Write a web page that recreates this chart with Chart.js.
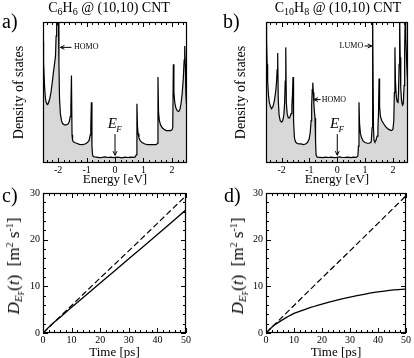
<!DOCTYPE html>
<html><head><meta charset="utf-8">
<script src="https://cdn.jsdelivr.net/npm/chart.js@4"></script>
<style>
html,body{margin:0;padding:0;background:#fff;width:414px;height:358px;overflow:hidden;position:relative;font-family:'Liberation Serif','Times New Roman',serif;color:#000;}
canvas{position:absolute;}
.t{position:absolute;white-space:nowrap;color:#000;}
.t sub{font-size:10px;vertical-align:-3px;line-height:0;}
.t sup{font-size:10px;vertical-align:6px;line-height:0;}
.lab{font-size:20px;line-height:20px;}
.rot{font-size:17px;line-height:18px;transform:translate(-50%,-50%) rotate(-90deg);}
.rot sub{font-size:11px;}
.rot sub sub{font-size:8px;vertical-align:-2px;}
</style></head><body>
<canvas id="ca" width="200" height="190" style="left:0;top:0"></canvas>
<canvas id="cb" width="204" height="190" style="left:210px;top:0"></canvas>
<canvas id="cc" width="200" height="180" style="left:0;top:182px"></canvas>
<canvas id="cd" width="204" height="180" style="left:210px;top:182px"></canvas>

<div class="t" style="left:0;width:218px;top:0;text-align:center;font-size:14px;line-height:16px">C<sub>6</sub>H<sub>6</sub> @ (10,10) CNT</div>
<div class="t" style="left:238px;width:200px;top:0;text-align:center;font-size:14px;line-height:16px">C<sub>10</sub>H<sub>8</sub> @ (10,10) CNT</div>
<div class="t lab" style="left:2px;top:11px">a)</div>
<div class="t lab" style="left:223px;top:11px">b)</div>
<div class="t lab" style="left:2px;top:185px">c)</div>
<div class="t lab" style="left:224px;top:185px">d)</div>
<div class="t rot" style="left:14px;top:266px"><i>D</i><sub><i>E</i><sub>F</sub></sub>(<i>t</i>)&ensp;[m<sup>2</sup> s<sup>-1</sup>]</div>
<div class="t rot" style="left:238px;top:266px"><i>D</i><sub><i>E</i><sub>F</sub></sub>(<i>t</i>)&ensp;[m<sup>2</sup> s<sup>-1</sup>]</div>

<script>
// ---------- data ----------
const energyTicks = [-2, -1, 0, 1, 2];
const timeTicks = [0, 10, 20, 30, 40, 50];
const diffTicks = [0, 10, 20, 30];

// Panel a: C6H6 @ (10,10) CNT density of states
const energyA = [-2.53,-2.51,-2.48,-2.45,-2.42,-2.38,-2.35,-2.30,-2.25,-2.20,-2.16,-2.12,-2.09,-2.07,-2.05,-2.03,-2.01,-1.99,-1.97,-1.95,-1.92,-1.88,-1.84,-1.78,-1.72,-1.66,-1.61,-1.57,-1.55,-1.53,-1.51,-1.49,-1.46,-1.42,-1.35,-1.25,-1.15,-1.05,-0.97,-0.91,-0.87,-0.85,-0.83,-0.81,-0.79,-0.77,-0.74,-0.65,-0.55,-0.45,-0.35,-0.25,-0.15,-0.05,0.05,0.15,0.25,0.35,0.45,0.55,0.65,0.72,0.75,0.77,0.79,0.81,0.84,0.88,0.95,1.05,1.15,1.25,1.35,1.42,1.46,1.49,1.51,1.53,1.56,1.60,1.66,1.72,1.80,1.88,1.95,2.00,2.03,2.05,2.07,2.10,2.14,2.19,2.24,2.28,2.32,2.36,2.40,2.43,2.45,2.47,2.49,2.51,2.53];
const dosA = [8.6,7.2,5.6,4.7,4.3,4.15,4.2,4.5,5.0,5.8,6.5,7.1,7.6,9.0,10.5,9.8,10.5,10.5,7.0,4.6,3.5,3.0,2.8,2.7,2.7,2.75,2.9,3.3,4.0,6.2,2.0,1.6,1.5,1.45,1.4,1.32,1.3,1.35,1.45,1.6,2.0,2.6,4.3,1.2,0.6,0.47,0.44,0.42,0.38,0.40,0.43,0.39,0.41,0.38,0.42,0.40,0.37,0.41,0.39,0.42,0.40,0.45,0.6,4.2,2.6,2.1,1.8,1.6,1.45,1.35,1.3,1.3,1.3,1.3,1.32,1.4,6.1,3.6,3.0,2.7,2.5,2.4,2.3,2.3,2.3,2.35,2.5,7.0,5.0,4.3,3.9,3.7,3.65,3.8,4.2,4.9,6.0,7.3,8.3,7.0,5.0,4.2,3.9];

// Panel b: C10H8 @ (10,10) CNT density of states
const energyB = [-2.56,-2.54,-2.52,-2.50,-2.47,-2.44,-2.40,-2.36,-2.31,-2.26,-2.21,-2.18,-2.16,-2.14,-2.12,-2.09,-2.05,-2.00,-1.96,-1.92,-1.89,-1.87,-1.85,-1.83,-1.80,-1.76,-1.71,-1.66,-1.63,-1.61,-1.59,-1.57,-1.54,-1.50,-1.45,-1.38,-1.30,-1.22,-1.14,-1.07,-1.01,-0.97,-0.94,-0.92,-0.90,-0.88,-0.86,-0.84,-0.82,-0.80,-0.78,-0.76,-0.72,-0.62,-0.52,-0.42,-0.32,-0.22,-0.12,-0.02,0.08,0.18,0.28,0.38,0.48,0.58,0.68,0.74,0.76,0.78,0.80,0.83,0.87,0.93,1.00,1.08,1.16,1.22,1.25,1.26,1.28,1.30,1.32,1.35,1.39,1.43,1.46,1.48,1.50,1.52,1.55,1.60,1.66,1.73,1.80,1.88,1.95,2.00,2.03,2.05,2.07,2.09,2.12,2.15,2.18,2.20,2.22,2.24,2.26,2.28,2.31,2.34,2.37,2.40,2.42,2.44,2.46,2.49,2.52,2.55];
const dosB = [10.5,8.8,7.0,5.8,4.8,4.3,4.0,3.85,4.0,4.4,5.1,5.8,6.6,7.8,4.5,3.4,3.0,2.9,3.0,3.4,4.3,5.8,8.2,4.3,3.5,3.2,3.2,3.5,4.1,4.8,6.1,3.0,1.8,1.5,1.4,1.35,1.35,1.3,1.35,1.45,1.7,2.2,3.0,4.1,5.2,5.7,5.0,4.2,3.6,3.2,1.5,0.55,0.42,0.40,0.38,0.41,0.39,0.42,0.38,0.40,0.43,0.39,0.40,0.42,0.38,0.41,0.40,0.5,1.2,4.3,2.8,2.1,1.8,1.55,1.45,1.4,1.4,1.5,2.5,10.5,10.5,2.5,1.6,1.5,1.6,1.9,2.5,3.5,6.0,4.0,3.3,3.0,2.8,2.6,2.45,2.35,2.3,2.4,3.0,5.0,8.2,5.8,4.7,4.35,4.3,5.0,7.0,10.5,7.5,5.3,4.4,4.1,4.2,5.5,8.0,10.5,9.0,7.2,6.0,5.3];

// Panel c: diffusion coefficient, C6H6
const timeC = [0, 3, 6, 10, 20, 30, 40, 50];
const diffC = [0, 1.8, 3.4, 5.5, 10.7, 15.9, 21.1, 26.4];
// Panel d: diffusion coefficient, C10H8
const timeD = [0, 1, 2, 3, 5, 7.5, 10, 15, 20, 25, 30, 35, 40, 45, 50];
const diffD = [0, 0.6, 1.2, 1.7, 2.5, 3.4, 4.2, 5.3, 6.2, 7.0, 7.7, 8.3, 8.8, 9.2, 9.4];
// Ballistic reference (dashed), both panels
const timeBal = [0, 10, 20, 30, 40, 50];
const diffBal = [0, 5.9, 11.8, 17.6, 23.5, 29.4];

// ---------- helpers ----------
const zip = (xs, ys) => xs.map((x, i) => ({x, y: ys[i]}));
Chart.defaults.font.family = "'Liberation Serif','Times New Roman',serif";
Chart.defaults.color = '#000';

const frameTicks = {
  id: 'frameTicks',
  afterDraw(chart, args, o) {
    const {ctx, chartArea: a, scales: {x, y}} = chart;
    ctx.save();
    ctx.strokeStyle = '#000';
    ctx.lineWidth = 1;
    ctx.beginPath();
    const mark = (sc, step, len, horiz) => {
      if (!step) return;
      for (let i = Math.ceil(sc.min / step - 1e-9); i * step <= sc.max + 1e-9; i++) {
        const p = Math.round(sc.getPixelForValue(i * step)) + 0.5;
        if (horiz) {
          ctx.moveTo(p, a.bottom); ctx.lineTo(p, a.bottom - len);
          ctx.moveTo(p, a.top); ctx.lineTo(p, a.top + len);
        } else {
          ctx.moveTo(a.left, p); ctx.lineTo(a.left + len, p);
          ctx.moveTo(a.right, p); ctx.lineTo(a.right - len, p);
        }
      }
    };
    mark(x, o.xMinor, 3, true); mark(x, o.xMajor, 5, true);
    mark(y, o.yMinor, 3, false); mark(y, o.yMajor, 5, false);
    ctx.stroke();
    ctx.lineWidth = 1.2;
    ctx.strokeRect(Math.round(a.left) + 0.5, Math.round(a.top) + 0.5, Math.round(a.right - a.left) - 1, Math.round(a.bottom - a.top) - 1);
    ctx.restore();
  }
};

const annot = {
  id: 'annot',
  afterDraw(chart, args, o) {
    const {ctx, scales: {x, y}} = chart;
    ctx.save();
    ctx.strokeStyle = '#000'; ctx.fillStyle = '#000'; ctx.lineWidth = 1;
    (o.arrows || []).forEach(([x1, y1, x2, y2]) => {
      const X1 = x.getPixelForValue(x1), Y1 = y.getPixelForValue(y1);
      const X2 = x.getPixelForValue(x2), Y2 = y.getPixelForValue(y2);
      const ang = Math.atan2(Y2 - Y1, X2 - X1), h = 4.5;
      ctx.beginPath();
      ctx.moveTo(X1, Y1); ctx.lineTo(X2, Y2);
      ctx.moveTo(X2 - h * Math.cos(ang - 0.45), Y2 - h * Math.sin(ang - 0.45));
      ctx.lineTo(X2, Y2);
      ctx.lineTo(X2 - h * Math.cos(ang + 0.45), Y2 - h * Math.sin(ang + 0.45));
      ctx.stroke();
    });
    (o.labels || []).forEach(l => {
      ctx.font = l.font;
      ctx.textAlign = l.align; ctx.textBaseline = 'middle';
      ctx.fillText(l.text, x.getPixelForValue(l.x), y.getPixelForValue(l.y));
    });
    if (o.ef) {
      const px = x.getPixelForValue(o.ef.x), py = y.getPixelForValue(o.ef.y);
      ctx.textBaseline = 'middle'; ctx.textAlign = 'left';
      ctx.font = "italic 15px 'Liberation Serif', serif";
      const wE = ctx.measureText('E').width;
      ctx.font = "italic 9px 'Liberation Serif', serif";
      const wF = ctx.measureText('F').width;
      const x0 = px - (wE + wF) / 2;
      ctx.font = "italic 15px 'Liberation Serif', serif";
      ctx.fillText('E', x0, py);
      ctx.font = "italic 9px 'Liberation Serif', serif";
      ctx.fillText('F', x0 + wE - 0.5, py + 5);
    }
    ctx.restore();
  }
};
Chart.register(frameTicks, annot);

const fixedTicks = arr => s => { s.ticks = arr.map(v => ({value: v})); };

function dosChart(id, E, V, xmin, xmax, pad, yW, yTitlePad, ann) {
  return new Chart(document.getElementById(id), {
    type: 'line',
    data: {datasets: [{data: zip(E, V), borderColor: '#000', borderWidth: 1.2, pointRadius: 0,
      fill: 'origin', backgroundColor: '#d8d8d8', tension: 0}]},
    options: {
      responsive: false, animation: false, events: [],
      layout: {padding: pad},
      plugins: {legend: {display: false}, tooltip: {enabled: false},
        frameTicks: {xMajor: 1, xMinor: 0.2}, annot: ann},
      scales: {
        x: {type: 'linear', min: xmin, max: xmax, afterBuildTicks: fixedTicks(energyTicks),
          afterFit: s => { s.height = 27; },
          grid: {display: false, drawTicks: false}, border: {display: false},
          ticks: {padding: 1, font: {size: 10}, color: '#000', maxRotation: 0, callback: v => String(v)},
          title: {display: true, text: 'Energy [eV]', font: {size: 13}, color: '#000', padding: {top: 0, bottom: 3}}},
        y: {type: 'linear', min: 0, max: 10, afterFit: s => { s.width = yW; },
          grid: {display: false, drawTicks: false}, border: {display: false},
          ticks: {display: false},
          title: {display: true, text: 'Density of states', font: {size: 14}, color: '#000', padding: {top: yTitlePad, bottom: 0}}}
      }
    }
  });
}

function diffChart(id, T, D, pad, yW) {
  return new Chart(document.getElementById(id), {
    type: 'line',
    data: {datasets: [
      {data: zip(T, D), borderColor: '#000', borderWidth: 1.3, pointRadius: 0, fill: false, tension: 0.3},
      {data: zip(timeBal, diffBal), borderColor: '#000', borderWidth: 1.2, borderDash: [6, 3], pointRadius: 0, fill: false, tension: 0}
    ]},
    options: {
      responsive: false, animation: false, events: [],
      layout: {padding: pad},
      plugins: {legend: {display: false}, tooltip: {enabled: false},
        frameTicks: {xMajor: 10, xMinor: 2, yMajor: 10, yMinor: 2}},
      scales: {
        x: {type: 'linear', min: 0, max: 50, afterBuildTicks: fixedTicks(timeTicks),
          afterFit: s => { s.height = 29; },
          grid: {display: false, drawTicks: false}, border: {display: false},
          ticks: {padding: 1, font: {size: 10}, color: '#000', maxRotation: 0},
          title: {display: true, text: 'Time [ps]', font: {size: 13}, color: '#000', padding: {top: 0, bottom: 2}}},
        y: {type: 'linear', min: 0, max: 30, afterBuildTicks: fixedTicks(diffTicks),
          afterFit: s => { s.width = yW; },
          grid: {display: false, drawTicks: false}, border: {display: false},
          ticks: {padding: 3, font: {size: 10}, color: '#000'}}
      }
    }
  });
}

dosChart('ca', energyA, dosA, -2.53, 2.53, {top: 22, right: 13, left: 0, bottom: 0}, 43, 10.6, {
  arrows: [[-1.53, 8.2, -1.92, 8.2], [0, 2.05, 0, 0.55]],
  labels: [{x: -1.44, y: 8.2, text: 'HOMO', font: "8px 'Liberation Serif', serif", align: 'left'}],
  ef: {x: 0, y: 2.75}
});
dosChart('cb', energyB, dosB, -2.56, 2.54, {top: 22, right: 6, left: 0, bottom: 0}, 56, 22.6, {
  arrows: [[-0.6, 4.5, -0.84, 4.5], [0.98, 8.3, 1.24, 8.3], [0, 2.05, 0, 0.55]],
  labels: [{x: -0.56, y: 4.5, text: 'HOMO', font: "8px 'Liberation Serif', serif", align: 'left'},
           {x: 0.93, y: 8.3, text: 'LUMO', font: "8px 'Liberation Serif', serif", align: 'right'}],
  ef: {x: 0, y: 2.75}
});
diffChart('cc', timeC, diffC, {top: 11, right: 14, left: 0, bottom: 0}, 43);
diffChart('cd', timeD, diffD, {top: 11, right: 8, left: 0, bottom: 0}, 56);
</script>
</body></html>
